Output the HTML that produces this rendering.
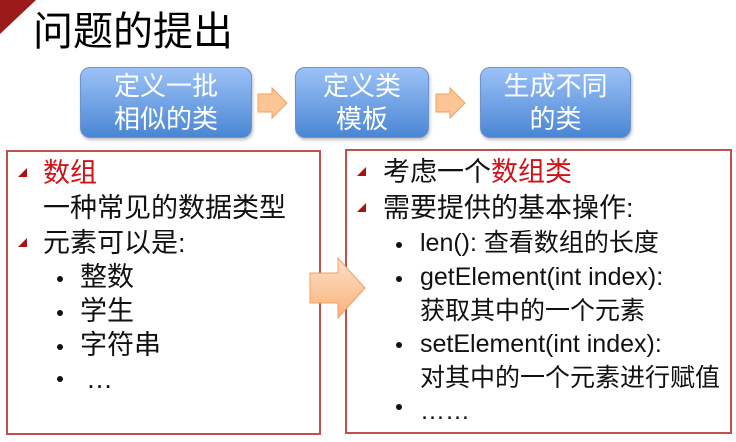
<!DOCTYPE html>
<html><head><meta charset="utf-8"><style>
body{margin:0;width:736px;height:442px;background:#fff;position:relative;overflow:hidden;font-family:"Liberation Sans","Noto Sans CJK SC",sans-serif;}
.a{position:absolute;white-space:nowrap;}
.box{position:absolute;border-radius:10px;background:linear-gradient(#9cc2f7,#4a86d4);border:1px solid #6d93c8;box-shadow:1px 2px 3px rgba(0,0,0,.25);color:#fff;font-size:26px;line-height:33px;text-align:center;display:flex;align-items:center;justify-content:center;}
.panel{position:absolute;border:2px solid #c0504d;box-sizing:border-box;}
.t{position:absolute;font-size:27px;line-height:34px;color:#111;white-space:nowrap;}
.r .t{font-size:25px;}
.r .t.h{font-size:27px;}
.tri{position:absolute;width:0;height:0;border-left:9px solid transparent;border-bottom:9px solid #a11;}
.dot{position:absolute;width:6px;height:6px;border-radius:3px;background:#111;}
.red{color:#d0131b;}
</style></head><body>
<svg class="a" style="left:0;top:0" width="40" height="34"><polygon points="0,0 36,0 0,34" fill="#9b1b1b"/></svg>
<div class="a" style="left:33px;top:8px;font-size:40px;line-height:48px;color:#000;">问题的提出</div>

<div class="box" style="left:80px;top:67px;width:170px;height:69px;">定义一批<br>相似的类</div>
<div class="box" style="left:295px;top:67px;width:132px;height:69px;">定义类<br>模板</div>
<div class="box" style="left:480px;top:67px;width:149px;height:69px;">生成不同<br>的类</div>
<svg class="a" style="left:256px;top:86px" width="34" height="34"><polygon points="2,8 16,8 16,2 31,17 16,32 16,26 2,26" fill="#fbc596" stroke="#f0a060" stroke-width="1"/></svg>
<svg class="a" style="left:434px;top:86px" width="34" height="34"><polygon points="2,8 16,8 16,2 31,17 16,32 16,26 2,26" fill="#fbc596" stroke="#f0a060" stroke-width="1"/></svg>

<div class="panel" style="left:6px;top:150px;width:315px;height:285px;"></div>
<div class="panel" style="left:345px;top:149px;width:387px;height:285px;"></div>
<svg class="a" style="left:308px;top:256px" width="60" height="64"><defs><linearGradient id="g" x1="0" y1="0" x2="0" y2="1"><stop offset="0" stop-color="#fde0c6"/><stop offset="1" stop-color="#f9b27a"/></linearGradient></defs><polygon points="2,17 30,17 30,2 57,32 30,62 30,47 2,47" fill="url(#g)" stroke="#f0a060" stroke-width="1"/></svg>

<div class="tri" style="left:18px;top:168px"></div>
<div class="t red" style="left:43px;top:156px">数组</div>
<div class="t" style="left:43px;top:191px">一种常见的数据类型</div>
<div class="tri" style="left:18px;top:238px"></div>
<div class="t" style="left:43px;top:226px">元素可以是:</div>
<div class="dot" style="left:57px;top:276px"></div><div class="t" style="left:80px;top:260px">整数</div>
<div class="dot" style="left:57px;top:310px"></div><div class="t" style="left:80px;top:294px">学生</div>
<div class="dot" style="left:57px;top:344px"></div><div class="t" style="left:80px;top:328px">字符串</div>
<div class="dot" style="left:57px;top:376px"></div><div class="t" style="left:86px;top:362px">…</div>

<div class="r">
<div class="tri" style="left:357px;top:167px"></div>
<div class="t h" style="left:383px;top:155px">考虑一个<span class="red">数组类</span></div>
<div class="tri" style="left:357px;top:203px"></div>
<div class="t h" style="left:383px;top:191px">需要提供的基本操作:</div>
<div class="dot" style="left:396px;top:242px"></div><div class="t" style="left:420px;top:226px">len(): 查看数组的长度</div>
<div class="dot" style="left:396px;top:276px"></div><div class="t" style="left:420px;top:260px">getElement(int index):</div>
<div class="t" style="left:420px;top:294px">获取其中的一个元素</div>
<div class="dot" style="left:396px;top:342px"></div><div class="t" style="left:420px;top:327px">setElement(int index):</div>
<div class="t" style="left:420px;top:361px">对其中的一个元素进行赋值</div>
<div class="dot" style="left:396px;top:404px"></div><div class="t" style="left:420px;top:394px">……</div>
</div>
</body></html>
